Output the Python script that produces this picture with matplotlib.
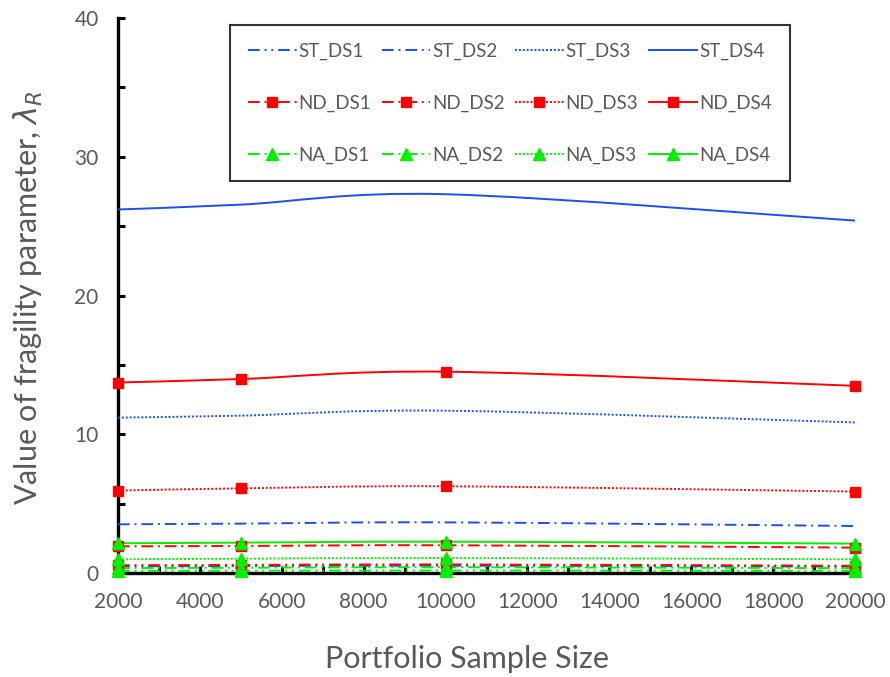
import matplotlib
matplotlib.use('Agg')
import matplotlib.pyplot as plt
from matplotlib.path import Path
from matplotlib.patches import PathPatch
from matplotlib.lines import Line2D
from matplotlib.ticker import MultipleLocator

plt.rcParams['font.family'] = ['Lato', 'DejaVu Sans']
plt.rcParams['mathtext.fontset'] = 'dejavusans'

# portfolio sample sizes
sizes = [2000, 5000, 10000, 20000]

# fragility parameter per damage state
st_ds1 = [0.48, 0.50, 0.53, 0.46]
st_ds2 = [3.51, 3.56, 3.65, 3.39]
st_ds3 = [11.20, 11.34, 11.70, 10.85]
st_ds4 = [26.20, 26.55, 27.30, 25.40]

nd_ds1 = [0.56, 0.58, 0.62, 0.52]
nd_ds2 = [1.92, 1.95, 2.00, 1.83]
nd_ds3 = [5.94, 6.10, 6.25, 5.87]
nd_ds4 = [13.73, 13.98, 14.51, 13.49]

na_ds1 = [0.15, 0.16, 0.18, 0.15]
na_ds2 = [0.36, 0.38, 0.42, 0.35]
na_ds3 = [0.99, 1.03, 1.08, 0.99]
na_ds4 = [2.14, 2.19, 2.26, 2.12]

BLUE = '#1d4fe6'
RED = '#ff0000'
GREEN = '#00ee00'
GREY = '#595959'

styles = {
    'DS1': (0, (6, 2.5, 1, 2.5, 1, 2.5)),
    'DS2': (0, (6, 2.5, 1, 2.5)),
    'DS3': (0, (1, 1)),
    'DS4': '-',
}


def smooth_path(xs, ys):
    # cubic bezier through the points (catmull-rom style tangents)
    pts = list(zip(xs, ys))
    n = len(pts)
    verts = [pts[0]]
    codes = [Path.MOVETO]
    for i in range(n - 1):
        p0 = pts[max(i - 1, 0)]
        p1 = pts[i]
        p2 = pts[i + 1]
        p3 = pts[min(i + 2, n - 1)]
        c1 = (p1[0] + (p2[0] - p0[0]) / 6, p1[1] + (p2[1] - p0[1]) / 6)
        c2 = (p2[0] - (p3[0] - p1[0]) / 6, p2[1] - (p3[1] - p1[1]) / 6)
        verts += [c1, c2, p2]
        codes += [Path.CURVE4] * 3
    return Path(verts, codes)


fig = plt.figure(figsize=(8.9, 6.77), dpi=100)
ax = fig.add_axes([0.1326, 0.1536, 0.8281, 0.8198])

groups = [
    ('ST', BLUE, None, 0, [st_ds1, st_ds2, st_ds3, st_ds4]),
    ('ND', RED, 's', 7, [nd_ds1, nd_ds2, nd_ds3, nd_ds4]),
    ('NA', GREEN, '^', 8, [na_ds1, na_ds2, na_ds3, na_ds4]),
]

handles = {}
for z, (name, color, marker, ms, series) in enumerate(groups):
    for k, vals in enumerate(series):
        ds = 'DS%d' % (k + 1)
        patch = PathPatch(smooth_path(sizes, vals), fill=False, edgecolor=color,
                          linestyle=styles[ds], lw=1.4, zorder=2 + z, clip_on=False)
        ax.add_patch(patch)
        if marker:
            ax.plot(sizes, vals, linestyle='none', marker=marker, ms=ms,
                    color=color, zorder=5 + z, clip_on=False)
        handles[(name, ds)] = Line2D([], [], color=color, linestyle=styles[ds], lw=1.4,
                                     marker=marker, ms=ms)

# legend fills column by column, so order by damage state first
leg_handles = []
leg_labels = []
for ds in ['DS1', 'DS2', 'DS3', 'DS4']:
    for name in ['ST', 'ND', 'NA']:
        leg_handles.append(handles[(name, ds)])
        leg_labels.append('%s_%s' % (name, ds))

leg = ax.legend(leg_handles, leg_labels, ncol=4, loc='upper left',
                bbox_to_anchor=(0.152, 0.988), fontsize=13.5, frameon=True,
                fancybox=False, edgecolor='black', handlelength=2.6,
                handletextpad=0.1, columnspacing=0.55, labelspacing=1.85,
                borderpad=0.95, borderaxespad=0, labelcolor=GREY)
leg.get_frame().set_linewidth(1.5)

ax.set_xlim(2000, 20000)
ax.set_ylim(0, 40)
ax.xaxis.set_major_locator(MultipleLocator(2000))
ax.xaxis.set_minor_locator(MultipleLocator(1000))
ax.yaxis.set_major_locator(MultipleLocator(10))
ax.yaxis.set_minor_locator(MultipleLocator(5))

for side in ['top', 'right']:
    ax.spines[side].set_visible(False)
for side in ['left', 'bottom']:
    ax.spines[side].set_linewidth(2.4)
    ax.spines[side].set_zorder(1)

ax.tick_params(which='both', direction='in', length=5, width=2.2, color='black')
ax.tick_params(axis='x', which='major', labelsize=15, labelcolor=GREY, pad=14)
ax.tick_params(axis='y', which='major', labelsize=15, labelcolor=GREY, pad=14)

ax.set_xlabel('Portfolio Sample Size', fontsize=22, color=GREY)
ax.xaxis.set_label_coords(0.4735, -0.130)
ax.set_ylabel(r'Value of fragility parameter, $\boldsymbol{\lambda_R}$',
              fontsize=22, color=GREY)
ax.yaxis.set_label_coords(-0.099, 0.495)

fig.savefig('out.png', dpi=100)
